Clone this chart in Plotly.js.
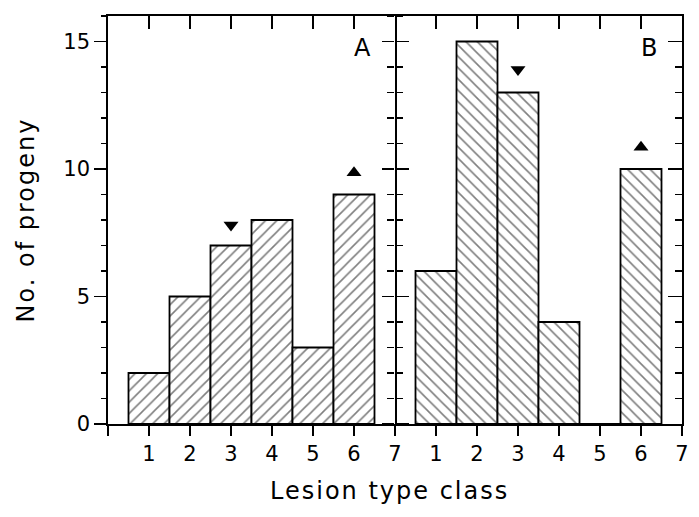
<!DOCTYPE html>
<html>
<head>
<meta charset="utf-8">
<script src="https://cdn.plot.ly/plotly-3.0.1.min.js"></script>
<style>
html,body{margin:0;padding:0;background:#fff;}
#chart{width:699px;height:517px;}
#chart text.annotation-text, #chart text.ytitle { letter-spacing: 2px; }
</style>
</head>
<body>
<div id="chart"></div>
<script>
const classes = [1, 2, 3, 4, 5, 6];
const progenyA = [2, 5, 7, 8, 3, 9];
const progenyB = [6, 15, 13, 4, 0, 10];
const tickVals = [0, 1, 2, 3, 4, 5, 6, 7];
const tickText = ['', '1', '2', '3', '4', '5', '6', '7'];
const topTickVals = [1, 2, 3, 4, 5, 6];
const downX = [3];
const upX = [6];
const downA = [7.8];
const upA = [9.85];
const downB = [13.9];
const upB = [10.85];
const panelLabels = ['A', 'B'];

const FONT = 'DejaVu Sans, sans-serif';
const LW = 1.8;

function barTrace(y, shape, xa, ya) {
  return {
    type: 'bar', x: classes, y: y, xaxis: xa, yaxis: ya, width: 1,
    marker: {
      color: 'white',
      line: {color: 'black', width: LW},
      pattern: {shape: shape, fgcolor: 'black', bgcolor: 'white', size: 8, solidity: 0.2, fillmode: 'overlay'}
    },
    hoverinfo: 'skip', showlegend: false
  };
}
function markerTrace(x, y, sym, xa, ya) {
  return {type: 'scatter', mode: 'markers', x: x, y: y, xaxis: xa, yaxis: ya,
    marker: {symbol: sym, size: 13, color: 'black'}, showlegend: false, hoverinfo: 'skip'};
}
function emptyTrace(xa, ya) {
  return {type: 'scatter', x: [], y: [], xaxis: xa, yaxis: ya, showlegend: false, hoverinfo: 'skip'};
}

const data = [
  barTrace(progenyA, '/', 'x', 'y'),
  barTrace(progenyB, '\\', 'x2', 'y2'),
  markerTrace(downX, downA, 'triangle-down', 'x', 'y'),
  markerTrace(upX, upA, 'triangle-up', 'x', 'y'),
  markerTrace(downX, downB, 'triangle-down', 'x2', 'y2'),
  markerTrace(upX, upB, 'triangle-up', 'x2', 'y2'),
  emptyTrace('x3', 'y3'),
  emptyTrace('x4', 'y4'),
  emptyTrace('x', 'y5'),
  emptyTrace('x', 'y6'),
  emptyTrace('x2', 'y7'),
  emptyTrace('x2', 'y8')
];

const yRange = [0, 16];
const xRange = [0, 7];
const tf = {family: FONT, size: 21, color: 'black'};

function xBottom(domain, anchor) {
  return {domain: domain, anchor: anchor, range: xRange, tickmode: 'array', tickvals: tickVals, ticktext: tickText,
    ticks: 'outside', ticklen: 10, tickwidth: LW, tickcolor: 'black', showline: true, linecolor: 'black', linewidth: LW,
    showgrid: false, zeroline: false, tickfont: tf, fixedrange: true};
}
function xTop(over, anchor) {
  return {overlaying: over, anchor: anchor, side: 'top', range: xRange, tickmode: 'array', tickvals: topTickVals,
    ticks: 'inside', ticklen: 13, tickwidth: LW, tickcolor: 'black', showticklabels: false, showline: true,
    linecolor: 'black', linewidth: LW, showgrid: false, zeroline: false, fixedrange: true};
}
function yAxis(opts) {
  return Object.assign({range: yRange, tickmode: 'linear', tick0: 0, dtick: 5, tickwidth: LW, tickcolor: 'black',
    showline: false, linecolor: 'black', linewidth: LW, showgrid: false, zeroline: false, tickfont: tf, fixedrange: true,
    showticklabels: false}, opts);
}

const layout = {
  width: 699, height: 517,
  margin: {l: 108, r: 17, t: 16, b: 93},
  paper_bgcolor: 'white', plot_bgcolor: 'white',
  bargap: 0,
  showlegend: false,
  font: {family: FONT, color: 'black'},
  xaxis: xBottom([0, 0.5], 'y'),
  xaxis2: xBottom([0.5, 1], 'y2'),
  xaxis3: xTop('x', 'y'),
  xaxis4: xTop('x2', 'y2'),
  yaxis: yAxis({anchor: 'x', side: 'left', ticks: 'outside', ticklen: 12, showline: true, showticklabels: true,
    title: {text: 'No. of progeny', font: {family: FONT, size: 24, color: 'black'}, standoff: 22}}),
  yaxis5: yAxis({overlaying: 'y', anchor: 'x', side: 'left', ticks: 'outside', ticklen: 6, dtick: 1}),
  yaxis3: yAxis({overlaying: 'y', anchor: 'x', side: 'right', ticks: 'outside', ticklen: 12, showline: true}),
  yaxis6: yAxis({overlaying: 'y', anchor: 'x', side: 'right', ticks: 'outside', ticklen: 7, dtick: 1}),
  yaxis2: yAxis({anchor: 'x2', side: 'left', ticks: 'outside', ticklen: 12}),
  yaxis7: yAxis({overlaying: 'y2', anchor: 'x2', side: 'left', ticks: 'outside', ticklen: 7, dtick: 1}),
  yaxis4: yAxis({overlaying: 'y2', anchor: 'x2', side: 'right', ticks: 'inside', ticklen: 14, showline: true}),
  yaxis8: yAxis({overlaying: 'y2', anchor: 'x2', side: 'right', ticks: 'inside', ticklen: 7, dtick: 1}),
  annotations: [
    {xref: 'x', yref: 'y', x: 6.23, y: 14.75, text: panelLabels[0], showarrow: false, font: {family: FONT, size: 24, color: 'black'}},
    {xref: 'x2', yref: 'y2', x: 6.23, y: 14.75, text: panelLabels[1], showarrow: false, font: {family: FONT, size: 24, color: 'black'}},
    {xref: 'paper', yref: 'paper', x: 0.49, y: -0.165, yanchor: 'middle', text: 'Lesion type class', showarrow: false,
      font: {family: FONT, size: 24, color: 'black'}}
  ]
};

Plotly.newPlot('chart', data, layout, {displayModeBar: false, staticPlot: true});
</script>
</body>
</html>
